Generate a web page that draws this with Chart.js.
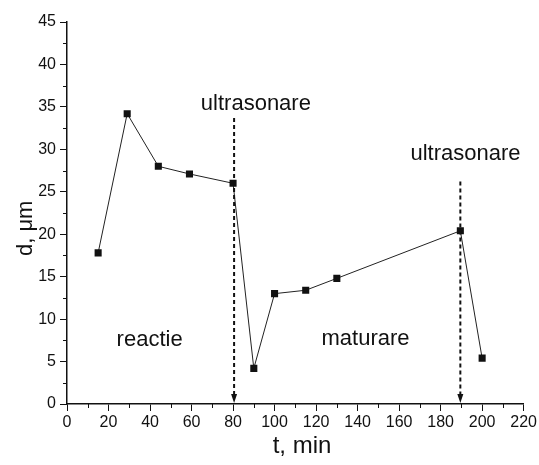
<!DOCTYPE html>
<html>
<head>
<meta charset="utf-8">
<script src="https://cdn.jsdelivr.net/npm/chart.js@4"></script>
<style>
  body { margin: 0; background: #fff; }
</style>
</head>
<body>
<canvas id="chart" width="539" height="465"></canvas>
<script>
// measured particle size vs time
const times = [15, 29, 44, 59, 80, 90, 100, 115, 130, 189.5, 200];
const sizes = [17.8, 34.2, 28.0, 27.1, 26.0, 4.2, 13.0, 13.4, 14.8, 20.4, 5.4];

// dashed arrows marking the ultrasound pulses
const arrowTimes = [80.5, 189.5];
const arrowTops = [33.7, 26.2];

// text notes, anchored in data units (centre, baseline)
const noteTexts = ['ultrasonare', 'ultrasonare', 'reactie', 'maturare'];
const noteTimes = [91, 192, 39.8, 143.8];
const noteSizes = [34.6, 28.7, 6.8, 6.9];

Chart.defaults.font.family = "'Liberation Sans', Arial, sans-serif";
Chart.defaults.color = '#111';

const extras = {
    id: 'extras',
    afterDraw(chart) {
        const { ctx } = chart;
        const x = chart.scales.x;
        const y = chart.scales.y;
        ctx.save();

        // minor ticks
        ctx.strokeStyle = '#111';
        ctx.lineWidth = 1;
        ctx.beginPath();
        for (let v = 10; v < 220; v += 20) {
            const px = Math.round(x.getPixelForValue(v)) + 0.5;
            ctx.moveTo(px, y.bottom);
            ctx.lineTo(px, y.bottom + 4);
        }
        for (let v = 2.5; v < 45; v += 5) {
            const py = Math.round(y.getPixelForValue(v)) + 0.5;
            ctx.moveTo(x.left, py);
            ctx.lineTo(x.left - 4, py);
        }
        ctx.stroke();

        // arrows
        ctx.lineWidth = 2;
        ctx.fillStyle = '#111';
        arrowTimes.forEach((t, i) => {
            const px = x.getPixelForValue(t);
            const top = y.getPixelForValue(arrowTops[i]);
            const bottom = y.getPixelForValue(0);
            ctx.setLineDash([4, 3]);
            ctx.beginPath();
            ctx.moveTo(px, top);
            ctx.lineTo(px, bottom - 8);
            ctx.stroke();
            ctx.setLineDash([]);
            ctx.beginPath();
            ctx.moveTo(px - 3, bottom - 10);
            ctx.lineTo(px + 3, bottom - 10);
            ctx.lineTo(px, bottom - 1);
            ctx.closePath();
            ctx.fill();
        });

        // notes
        ctx.font = "22px 'Liberation Sans', Arial, sans-serif";
        ctx.textAlign = 'center';
        ctx.textBaseline = 'alphabetic';
        noteTexts.forEach((txt, i) => {
            ctx.fillText(txt, x.getPixelForValue(noteTimes[i]), y.getPixelForValue(noteSizes[i]));
        });
        ctx.restore();
    }
};

new Chart(document.getElementById('chart'), {
    type: 'line',
    data: {
        datasets: [{
            data: times.map((t, i) => ({ x: t, y: sizes[i] })),
            borderColor: '#222',
            borderWidth: 1,
            pointStyle: 'rect',
            pointRadius: 5,
            pointBackgroundColor: '#111',
            pointBorderColor: '#111',
            pointBorderWidth: 0,
        }]
    },
    options: {
        responsive: false,
        animation: false,
        layout: { padding: { top: 22, right: 13 } },
        plugins: {
            legend: { display: false },
            tooltip: { enabled: false }
        },
        scales: {
            x: {
                type: 'linear',
                min: 0,
                max: 220,
                ticks: { stepSize: 20, font: { size: 16 }, padding: 2 },
                grid: { drawOnChartArea: false, tickLength: 7, color: '#111' },
                border: { color: '#111', width: 1.5 },
                title: {
                    display: true,
                    // leading spaces nudge the title right like the original
                    text: '  t, min',
                    font: { size: 24 },
                    padding: { top: 0, bottom: 4 }
                },
                afterFit: s => { s.height = 61; }
            },
            y: {
                min: 0,
                max: 45,
                ticks: { stepSize: 5, font: { size: 16 }, padding: 4 },
                grid: { drawOnChartArea: false, tickLength: 7, color: '#111' },
                border: { color: '#111', width: 1.5 },
                title: {
                    display: true,
                    // trailing spaces push the rotated title a bit lower
                    text: 'd, μm     ',
                    font: { size: 22 },
                    padding: { top: 13, bottom: 0 }
                },
                afterFit: s => { s.width = 67; }
            }
        }
    },
    plugins: [extras]
});
</script>
</body>
</html>
